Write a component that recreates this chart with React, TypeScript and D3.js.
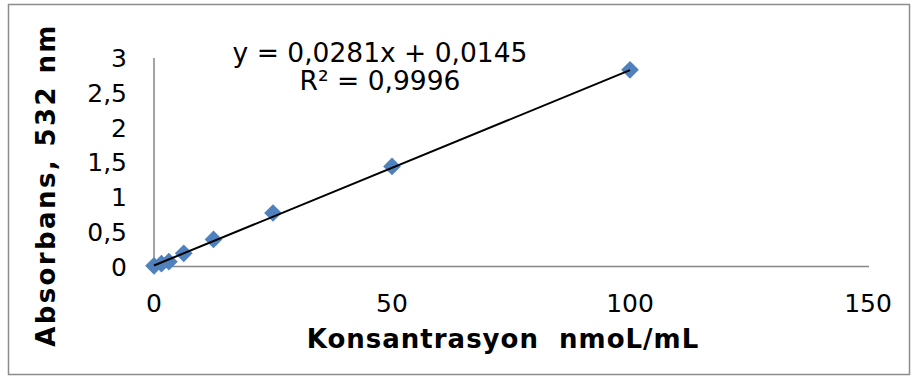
import React from 'react';
import * as d3 from 'd3';

// concentration (nmoL/mL) vs absorbance at 532 nm
const concentrations = [0, 1.5625, 3.125, 6.25, 12.5, 25, 50, 100];
const absorbances = [0.01, 0.04, 0.07, 0.19, 0.39, 0.77, 1.44, 2.83];

const xTicks = [0, 50, 100, 150];
const yTicks = [0, 0.5, 1, 1.5, 2, 2.5, 3];

const trendSlope = 0.0281;
const trendIntercept = 0.0145;
const trendRange = [0, 100];
const trendLabels = ['y = 0,0281x + 0,0145', 'R² = 0,9996'];

const xTitle = 'Konsantrasyon\u00a0\u00a0nmoL/mL';
const yTitle = 'Absorbans, 532 nm';

const W = 911;
const H = 377;
const font = 'Verdana, "DejaVu Sans", sans-serif';

const App = () => {
  const x = d3.scaleLinear().domain([0, 150]).range([154, 868]);
  const y = d3.scaleLinear().domain([0, 3]).range([266.5, 58]);

  const fmt = (v: number) => String(v).replace('.', ',');

  const trend = d3.line<number>()
    .x(d => x(d))
    .y(d => y(trendSlope * d + trendIntercept));

  const diamond = d3.symbol().type(d3.symbolDiamond2).size(200)();

  return (
    <svg width={W} height={H} style={{ position: 'absolute', left: 0, top: 0 }}>
      <rect x={0} y={0} width={W} height={H} fill="#fff" />
      <rect x={8.5} y={4.5} width={901} height={370} fill="none" stroke="#8c8c8c" strokeWidth={1.5} />

      {/* axes */}
      <line x1={x(0)} x2={x(0)} y1={y(3)} y2={y(0)} stroke="#868686" strokeWidth={1.5} />
      <line x1={x(0)} x2={869} y1={y(0)} y2={y(0)} stroke="#868686" strokeWidth={1.5} />

      {yTicks.map(t => (
        <text key={t} x={127} y={y(t)} dy="0.36em" textAnchor="end"
          fontFamily={font} fontSize={25} fill="#000">{fmt(t)}</text>
      ))}
      {xTicks.map(t => (
        <text key={t} x={x(t)} y={312} textAnchor="middle"
          fontFamily={font} fontSize={25} fill="#000">{t}</text>
      ))}

      {concentrations.map((c, i) => (
        <path key={i} d={diamond!} transform={`translate(${x(c)},${y(absorbances[i])})`}
          fill="#4f81bd" />
      ))}

      <path d={trend(trendRange)!} fill="none" stroke="#000" strokeWidth={2} />

      {trendLabels.map((t, i) => (
        <text key={t} x={380} y={62 + i * 28} textAnchor="middle"
          fontFamily={font} fontSize={26.5} fill="#000">{t}</text>
      ))}

      <text x={503} y={348} textAnchor="middle" fontFamily={font} letterSpacing={1}
        fontSize={26} fontWeight="bold" fill="#000">{xTitle}</text>
      <text transform="translate(55,185) rotate(-90)" textAnchor="middle" letterSpacing={2.4}
        fontFamily={font} fontSize={26} fontWeight="bold" fill="#000">{yTitle}</text>
    </svg>
  );
};

export default App;
